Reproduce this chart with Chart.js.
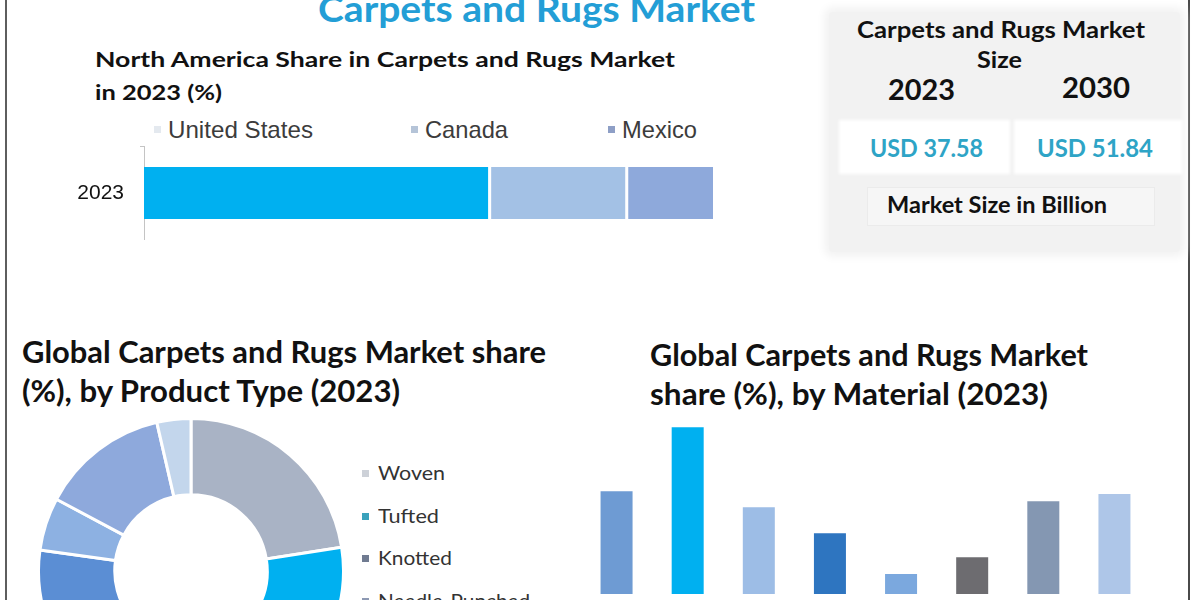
<!DOCTYPE html>
<html><head><meta charset="utf-8">
<script src="https://cdn.jsdelivr.net/npm/chart.js@4.4.1/dist/chart.umd.min.js"></script>
<style>
html,body{margin:0;padding:0;width:1200px;height:600px;overflow:hidden;background:#fff;}
body{position:relative;font-family:Lato,"Open Sans",sans-serif;}
.t{position:absolute;white-space:nowrap;line-height:1;transform-origin:0 0;}
.box{position:absolute;}
canvas{display:block;}
.cv{position:absolute;}
</style></head><body>

<div class="box" style="left:5px;top:0;width:2px;height:600px;background:#5e5e5e"></div>
<div class="box" style="left:1188px;top:0;width:2px;height:600px;background:#4a4a4a"></div>

<div class="box" style="left:829px;top:12px;width:351px;height:240px;background:#f2f2f2;box-shadow:0 0 8px 5px #f3f3f3;border-radius:4px"></div>
<div class="box" style="left:841px;top:122px;width:167px;height:50px;background:#fff;box-shadow:0 0 3px 2px #fff"></div>
<div class="box" style="left:1016px;top:122px;width:164px;height:50px;background:#fff;box-shadow:0 0 3px 2px #fff"></div>
<div class="box" style="left:867px;top:187px;width:286px;height:37px;background:#f6f6f6;border:1px solid #ebebeb"></div>

<div class="cv" style="left:60px;top:146px;width:653px;height:94px"><canvas id="na"></canvas></div>
<div class="cv" style="left:37px;top:417px;width:308px;height:308px"><canvas id="pt"></canvas></div>
<div class="cv" style="left:581px;top:414px;width:569px;height:180px"><canvas id="mat"></canvas></div>

<script>
// ---------- data ----------
const naYears = ['2023'];
const naCountries = ['United States', 'Canada', 'Mexico'];
const naShares = [61.0, 24.1, 14.9];

const productTypes = ['Woven', 'Tufted', 'Knotted', 'Needle-Punched', 'Hand-Tufted', 'Flat Weave', 'Hooked', 'Others'];
const productShares = [22.5, 25.0, 8.0, 9.0, 12.7, 5.6, 13.6, 3.6];

const materials = ['Nylon', 'Polyester', 'Polypropylene', 'Wool', 'Acrylic', 'Cotton', 'Jute', 'Others'];
const materialShares = [15.4, 25.0, 13.0, 9.1, 3.0, 5.5, 13.9, 15.0];

const marketYears = ['2023', '2030'];
const marketSizes = ['USD 37.58', 'USD 51.84'];

// ---------- styles ----------
const naColors = ['#00b0f0', '#a3c1e5', '#8ea9db'];
const naMarkerColors = ['#e4e9ef', '#b5c4d8', '#8e9fc6'];
const ptColors = ['#a9b3c5', '#00b0f0', '#6f7d96', '#8fa3c6', '#5b8ed4', '#8db1e2', '#8ea9dc', '#c3d6ec'];
const ptMarkerColors = ['#cdd1d8', '#3aa2bc', '#707b91', '#8d99b3', '#5b8ed4', '#8db1e2', '#8ea9dc', '#c3d6ec'];
const matColors = ['#6e9bd3', '#00b0f0', '#9dbde6', '#2e75c0', '#7ba8de', '#6d6c70', '#8497b2', '#aec6e8'];

function addText(txt, x, baseline, fs, weight, color, w, family) {
  const s = document.createElement('span');
  s.className = 't';
  s.textContent = txt;
  s.style.font = weight + ' ' + fs + 'px ' + (family || 'Lato');
  s.style.lineHeight = '1';
  s.style.color = color;
  s.style.left = x + 'px';
  s.style.top = '0px';
  document.body.appendChild(s);
  const m = document.createElement('i');
  m.style.cssText = 'display:inline-block;width:0;height:0;vertical-align:baseline';
  s.appendChild(m);
  const b = m.offsetTop;
  s.removeChild(m);
  s.style.top = (baseline - b) + 'px';
  if (w) {
    const cw = s.getBoundingClientRect().width;
    s.style.transform = 'scaleX(' + (w / cw) + ')';
  }
  return s;
}
function addMarker(x, y, size, color) {
  const d = document.createElement('div');
  d.className = 'box';
  d.style.cssText += ';left:' + x + 'px;top:' + y + 'px;width:' + size + 'px;height:' + size + 'px;background:' + color;
  document.body.appendChild(d);
}

// ---------- titles ----------
addText('Carpets and Rugs Market', 318, 22, 36, 700, '#239ed6', 437);
addText('North America Share in Carpets and Rugs Market', 95, 67, 21, 700, '#111', 580);
addText('in 2023 (%)', 95, 100, 21, 700, '#111', 127);
addText('Global Carpets and Rugs Market share', 22, 363, 30, 700, '#111', 524);
addText('(%), by Product Type (2023)', 22, 402, 30, 700, '#111', 378);
addText('Global Carpets and Rugs Market', 650, 366, 30, 700, '#111', 438);
addText('share (%), by Material (2023)', 650, 405, 30, 700, '#111', 398);

// ---------- market size panel ----------
addText('Carpets and Rugs Market', 857, 38, 23, 700, '#111', 288);
addText('Size', 977, 68, 23, 700, '#111', 45);
addText(marketYears[0], 888, 100, 28, 700, '#111', 67);
addText(marketYears[1], 1062, 98, 28, 700, '#111', 68);
addText(marketSizes[0], 870, 157, 25, 700, '#2ea4c6', 113);
addText(marketSizes[1], 1037, 157, 25, 700, '#2ea4c6', 116);
addText('Market Size in Billion', 887, 213, 22, 700, '#111', 220);

// ---------- legends ----------
const naLegX = [154, 411, 608];
const naLegW = [145, 83, 75];
naCountries.forEach((c, i) => {
  addMarker(naLegX[i], 126, 7, naMarkerColors[i]);
  addText(c, naLegX[i] + 14, 138, 24, 400, '#3c3c3c', naLegW[i], '"Liberation Sans", Arial');
});
const ptLegW = [67, 61, 74, 152];
for (let i = 0; i < 4; i++) {
  const cy = 473 + i * 42.5;
  addMarker(362, cy - 3, 7, ptMarkerColors[i]);
  addText(productTypes[i], 378, cy + 7, 19, 400, '#333', ptLegW[i]);
}

// ---------- charts ----------
Chart.defaults.animation = false;
Chart.defaults.responsive = true;
Chart.defaults.maintainAspectRatio = false;

new Chart(document.getElementById('na'), {
  type: 'bar',
  data: {
    labels: naYears,
    datasets: naCountries.map((c, i) => ({
      label: c,
      data: [naShares[i]],
      backgroundColor: naColors[i],
      borderColor: '#ffffff',
      borderWidth: i < naCountries.length - 1 ? {left: 0, top: 0, bottom: 0, right: 3} : 0,
      borderSkipped: false,
      categoryPercentage: 1,
      barPercentage: 0.553
    }))
  },
  options: {
    indexAxis: 'y',
    layout: {padding: 0},
    plugins: {legend: {display: false}, tooltip: {enabled: false}},
    scales: {
      x: {stacked: true, min: 0, max: 100, display: false},
      y: {
        stacked: true,
        offset: true,
        grid: {drawOnChartArea: false, drawTicks: true, tickLength: 4, color: '#c4c4c4', offset: true},
        border: {display: true, color: '#c4c4c4'},
        ticks: {color: '#111', padding: 16, font: {family: '"Liberation Sans", Arial', size: 21}},
        afterFit: s => { s.width = 84; s.paddingTop = 0; s.paddingBottom = 0; }
      }
    }
  }
});

new Chart(document.getElementById('pt'), {
  type: 'doughnut',
  data: {
    labels: productTypes,
    datasets: [{
      data: productShares,
      backgroundColor: ptColors,
      borderColor: '#ffffff',
      borderWidth: 3,
      hoverOffset: 0,
      offset: 0
    }]
  },
  options: {
    cutout: '50%',
    layout: {padding: 0},
    plugins: {legend: {display: false}, tooltip: {enabled: false}}
  }
});

new Chart(document.getElementById('mat'), {
  type: 'bar',
  data: {
    labels: materials,
    datasets: [{
      label: 'Share (%)',
      data: materialShares,
      backgroundColor: matColors,
      borderWidth: 0,
      categoryPercentage: 0.9,
      barPercentage: 0.5
    }]
  },
  options: {
    layout: {padding: 0},
    plugins: {legend: {display: false}, tooltip: {enabled: false}},
    scales: {
      x: {display: false},
      y: {display: false, min: 0, max: 27}
    }
  }
});
</script>
</body></html>
